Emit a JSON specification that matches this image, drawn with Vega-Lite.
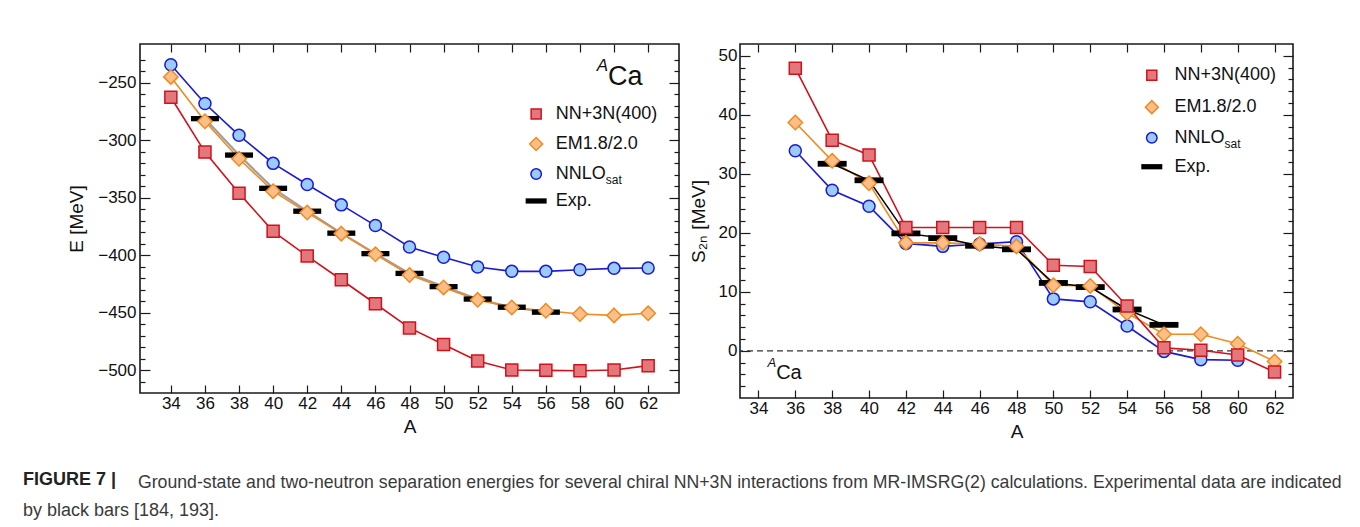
{
  "$schema": "https://vega.github.io/schema/vega-lite/v6.json",
  "background": "white",
  "padding": {"left": 22, "top": 42, "right": 0, "bottom": 0},
  "autosize": {"type": "pad"},
  "datasets": {
    "energy": [
      {"A": 36, "model": "Exp", "E": -281.4}, {"A": 38, "model": "Exp", "E": -313.1}, {"A": 40, "model": "Exp", "E": -342.0},
      {"A": 42, "model": "Exp", "E": -361.9}, {"A": 44, "model": "Exp", "E": -381.0}, {"A": 46, "model": "Exp", "E": -398.8},
      {"A": 48, "model": "Exp", "E": -416.0}, {"A": 50, "model": "Exp", "E": -427.5}, {"A": 52, "model": "Exp", "E": -438.3},
      {"A": 54, "model": "Exp", "E": -445.4}, {"A": 56, "model": "Exp", "E": -449.7},
      {"A": 34, "model": "NNLOsat", "E": -234.6}, {"A": 36, "model": "NNLOsat", "E": -268.3}, {"A": 38, "model": "NNLOsat", "E": -295.9},
      {"A": 40, "model": "NNLOsat", "E": -320.3}, {"A": 42, "model": "NNLOsat", "E": -338.7}, {"A": 44, "model": "NNLOsat", "E": -356.4},
      {"A": 46, "model": "NNLOsat", "E": -374.4}, {"A": 48, "model": "NNLOsat", "E": -393.0}, {"A": 50, "model": "NNLOsat", "E": -402.0},
      {"A": 52, "model": "NNLOsat", "E": -410.5}, {"A": 54, "model": "NNLOsat", "E": -414.2}, {"A": 56, "model": "NNLOsat", "E": -414.2},
      {"A": 58, "model": "NNLOsat", "E": -412.8}, {"A": 60, "model": "NNLOsat", "E": -411.6}, {"A": 62, "model": "NNLOsat", "E": -411.3},
      {"A": 34, "model": "EM1.8/2.0", "E": -245.1}, {"A": 36, "model": "EM1.8/2.0", "E": -283.7}, {"A": 38, "model": "EM1.8/2.0", "E": -316.3},
      {"A": 40, "model": "EM1.8/2.0", "E": -344.5}, {"A": 42, "model": "EM1.8/2.0", "E": -363.1}, {"A": 44, "model": "EM1.8/2.0", "E": -381.4},
      {"A": 46, "model": "EM1.8/2.0", "E": -399.4}, {"A": 48, "model": "EM1.8/2.0", "E": -417.4}, {"A": 50, "model": "EM1.8/2.0", "E": -428.2},
      {"A": 52, "model": "EM1.8/2.0", "E": -439.0}, {"A": 54, "model": "EM1.8/2.0", "E": -445.6}, {"A": 56, "model": "EM1.8/2.0", "E": -448.5},
      {"A": 58, "model": "EM1.8/2.0", "E": -451.3}, {"A": 60, "model": "EM1.8/2.0", "E": -452.5}, {"A": 62, "model": "EM1.8/2.0", "E": -450.7},
      {"A": 34, "model": "NN+3N(400)", "E": -262.8}, {"A": 36, "model": "NN+3N(400)", "E": -310.5}, {"A": 38, "model": "NN+3N(400)", "E": -346.2},
      {"A": 40, "model": "NN+3N(400)", "E": -379.4}, {"A": 42, "model": "NN+3N(400)", "E": -400.9}, {"A": 44, "model": "NN+3N(400)", "E": -421.5},
      {"A": 46, "model": "NN+3N(400)", "E": -442.4}, {"A": 48, "model": "NN+3N(400)", "E": -463.4}, {"A": 50, "model": "NN+3N(400)", "E": -477.9},
      {"A": 52, "model": "NN+3N(400)", "E": -492.2}, {"A": 54, "model": "NN+3N(400)", "E": -500.0}, {"A": 56, "model": "NN+3N(400)", "E": -500.3},
      {"A": 58, "model": "NN+3N(400)", "E": -500.6}, {"A": 60, "model": "NN+3N(400)", "E": -500.0}, {"A": 62, "model": "NN+3N(400)", "E": -496.2}
    ],
    "separation": [
      {"A": 38, "model": "Exp", "S": 31.7}, {"A": 40, "model": "Exp", "S": 28.9}, {"A": 42, "model": "Exp", "S": 19.9},
      {"A": 44, "model": "Exp", "S": 19.1}, {"A": 46, "model": "Exp", "S": 17.8}, {"A": 48, "model": "Exp", "S": 17.2},
      {"A": 50, "model": "Exp", "S": 11.5}, {"A": 52, "model": "Exp", "S": 10.8}, {"A": 54, "model": "Exp", "S": 7.0},
      {"A": 56, "model": "Exp", "S": 4.4},
      {"A": 36, "model": "NNLOsat", "S": 33.9}, {"A": 38, "model": "NNLOsat", "S": 27.2}, {"A": 40, "model": "NNLOsat", "S": 24.5},
      {"A": 42, "model": "NNLOsat", "S": 18.2}, {"A": 44, "model": "NNLOsat", "S": 17.7}, {"A": 46, "model": "NNLOsat", "S": 18.1},
      {"A": 48, "model": "NNLOsat", "S": 18.5}, {"A": 50, "model": "NNLOsat", "S": 8.8}, {"A": 52, "model": "NNLOsat", "S": 8.3},
      {"A": 54, "model": "NNLOsat", "S": 4.2}, {"A": 56, "model": "NNLOsat", "S": -0.1}, {"A": 58, "model": "NNLOsat", "S": -1.5},
      {"A": 60, "model": "NNLOsat", "S": -1.6},
      {"A": 36, "model": "EM1.8/2.0", "S": 38.7}, {"A": 38, "model": "EM1.8/2.0", "S": 32.2}, {"A": 40, "model": "EM1.8/2.0", "S": 28.4},
      {"A": 42, "model": "EM1.8/2.0", "S": 18.3}, {"A": 44, "model": "EM1.8/2.0", "S": 18.3}, {"A": 46, "model": "EM1.8/2.0", "S": 18.1},
      {"A": 48, "model": "EM1.8/2.0", "S": 17.7}, {"A": 50, "model": "EM1.8/2.0", "S": 11.1}, {"A": 52, "model": "EM1.8/2.0", "S": 11.0},
      {"A": 54, "model": "EM1.8/2.0", "S": 6.4}, {"A": 56, "model": "EM1.8/2.0", "S": 2.8}, {"A": 58, "model": "EM1.8/2.0", "S": 2.8},
      {"A": 60, "model": "EM1.8/2.0", "S": 1.2}, {"A": 62, "model": "EM1.8/2.0", "S": -1.8},
      {"A": 36, "model": "NN+3N(400)", "S": 47.9}, {"A": 38, "model": "NN+3N(400)", "S": 35.7}, {"A": 40, "model": "NN+3N(400)", "S": 33.2},
      {"A": 42, "model": "NN+3N(400)", "S": 20.9}, {"A": 44, "model": "NN+3N(400)", "S": 20.9}, {"A": 46, "model": "NN+3N(400)", "S": 20.9},
      {"A": 48, "model": "NN+3N(400)", "S": 20.9}, {"A": 50, "model": "NN+3N(400)", "S": 14.5}, {"A": 52, "model": "NN+3N(400)", "S": 14.3},
      {"A": 54, "model": "NN+3N(400)", "S": 7.6}, {"A": 56, "model": "NN+3N(400)", "S": 0.5}, {"A": 58, "model": "NN+3N(400)", "S": 0.1},
      {"A": 60, "model": "NN+3N(400)", "S": -0.7}, {"A": 62, "model": "NN+3N(400)", "S": -3.6}
    ]
  },
  "title": {
    "text": "Ground-state and two-neutron separation energies for several chiral NN+3N interactions from MR-IMSRG(2) calculations. Experimental data are indicated",
    "orient": "bottom", "anchor": "start", "dx": 115, "dy": -50,
    "font": "Liberation Sans", "fontSize": 17.7, "fontWeight": "normal", "color": "#3a3a3a"
  },
  "vconcat": [
    {
      "title": {
        "text": "FIGURE 7 |",
        "subtitle": "by black bars [184, 193].",
        "orient": "bottom", "anchor": "start", "dx": -44, "offset": 29,
        "font": "Liberation Sans", "fontSize": 18, "fontWeight": "bold", "color": "#222222",
        "subtitleFont": "Liberation Sans", "subtitleFontSize": 18, "subtitleColor": "#3a3a3a", "subtitlePadding": 13
      },
      "spacing": 7,
      "resolve": {
        "scale": {"x": "independent", "y": "independent", "color": "independent", "shape": "independent", "fill": "independent", "stroke": "independent"}
      },
      "hconcat": [
        {
          "width": 539,
          "height": 349,
          "resolve": {"axis": {"x": "independent", "y": "independent"}},
          "layer": [
            {
              "data": {"name": "energy"},
              "transform": [{"filter": "datum.model === 'Exp'"}],
              "mark": {"type": "line", "color": "#a0a0a0", "strokeWidth": 2.2},
              "encoding": {
                "x": {
                  "field": "A", "type": "quantitative",
                  "scale": {"domain": [32.19, 63.81], "nice": false, "zero": false},
                  "axis": {"orient": "bottom", "values": [34, 36, 38, 40, 42, 44, 46, 48, 50, 52, 54, 56, 58, 60, 62],
                           "tickSize": -8, "labelPadding": 10, "labelOverlap": false, "labelFlush": false,
                           "title": "A", "titlePadding": 6}
                },
                "y": {
                  "field": "E", "type": "quantitative",
                  "scale": {"domain": [-520, -216.5], "nice": false, "zero": false},
                  "axis": {"orient": "left",
                           "values": [-510, -500, -490, -480, -470, -460, -450, -440, -430, -420, -410, -400, -390, -380, -370, -360, -350, -340, -330, -320, -310, -300, -290, -280, -270, -260, -250, -240, -230],
                           "tickSize": {"condition": {"test": "datum.value % 50 === 0", "value": -10}, "value": -5},
                           "labelExpr": "datum.value % 50 === 0 ? datum.label : ''",
                           "labelPadding": 14, "labelOverlap": false, "labelFlush": false,
                           "title": "E [MeV]", "titlePadding": 11}
                }
              }
            },
            {
              "data": {"name": "energy"},
              "transform": [{"filter": "datum.model !== 'Exp'"}],
              "mark": {"type": "line", "strokeWidth": 1.6},
              "encoding": {
                "x": {"field": "A", "type": "quantitative", "axis": null},
                "y": {"field": "E", "type": "quantitative", "axis": null},
                "color": {"field": "model", "type": "nominal",
                          "scale": {"domain": ["NN+3N(400)", "EM1.8/2.0", "NNLOsat"], "range": ["#d0121c", "#f08a22", "#1a1ad4"]},
                          "legend": null}
              }
            },
            {
              "data": {"name": "energy"},
              "transform": [{"filter": "datum.model === 'Exp'"}],
              "mark": {"type": "point", "shape": "M-1,-0.19H1V0.19H-1Z", "size": 784, "filled": true, "color": "#000000", "opacity": 1},
              "encoding": {
                "x": {"field": "A", "type": "quantitative",
                      "axis": {"orient": "top", "values": [34, 36, 38, 40, 42, 44, 46, 48, 50, 52, 54, 56, 58, 60, 62], "tickSize": -8, "labels": false, "title": null}},
                "y": {"field": "E", "type": "quantitative",
                      "axis": {"orient": "right",
                               "values": [-510, -500, -490, -480, -470, -460, -450, -440, -430, -420, -410, -400, -390, -380, -370, -360, -350, -340, -330, -320, -310, -300, -290, -280, -270, -260, -250, -240, -230],
                               "tickSize": {"condition": {"test": "datum.value % 50 === 0", "value": -10}, "value": -5},
                               "labels": false, "title": null}}
              }
            },
            {
              "data": {"name": "energy"},
              "transform": [{"filter": "datum.model !== 'Exp'"}],
              "mark": {"type": "point", "filled": true, "opacity": 1, "size": 144, "strokeWidth": 1.5},
              "encoding": {
                "x": {"field": "A", "type": "quantitative", "axis": null},
                "y": {"field": "E", "type": "quantitative", "axis": null},
                "shape": {"field": "model", "type": "nominal",
                          "scale": {"domain": ["NN+3N(400)", "EM1.8/2.0", "NNLOsat"], "range": ["M-1,-1H1V1H-1Z", "M0,-1.2L1.2,0L0,1.2L-1.2,0Z", "circle"]},
                          "legend": null},
                "fill": {"field": "model", "type": "nominal",
                         "scale": {"domain": ["NN+3N(400)", "EM1.8/2.0", "NNLOsat"], "range": ["#e4777b", "#fdbf87", "#9bcbfb"]},
                         "legend": null},
                "stroke": {"field": "model", "type": "nominal",
                           "scale": {"domain": ["NN+3N(400)", "EM1.8/2.0", "NNLOsat"], "range": ["#d0121c", "#f08a22", "#1a1ad4"]},
                           "legend": null}
              }
            },
            {
              "data": {"values": [{}]},
              "mark": {"type": "point", "shape": "M-1,-1H1V1H-1Z", "size": 100, "filled": true, "fill": "#e4777b", "stroke": "#d0121c", "strokeWidth": 1.5, "opacity": 1},
              "encoding": {"x": {"datum": 55.43, "type": "quantitative", "axis": null}, "y": {"datum": -277.4, "type": "quantitative", "axis": null}}
            },
            {
              "data": {"values": [{}]},
              "mark": {"type": "point", "shape": "M0,-1.2L1.2,0L0,1.2L-1.2,0Z", "size": 117, "filled": true, "fill": "#fdbf87", "stroke": "#f08a22", "strokeWidth": 1.5, "opacity": 1},
              "encoding": {"x": {"datum": 55.43, "type": "quantitative", "axis": null}, "y": {"datum": -303.5, "type": "quantitative", "axis": null}}
            },
            {
              "data": {"values": [{}]},
              "mark": {"type": "point", "shape": "circle", "size": 110, "filled": true, "fill": "#9bcbfb", "stroke": "#1a1ad4", "strokeWidth": 1.5, "opacity": 1},
              "encoding": {"x": {"datum": 55.43, "type": "quantitative", "axis": null}, "y": {"datum": -329.6, "type": "quantitative", "axis": null}}
            },
            {
              "data": {"values": [{}]},
              "mark": {"type": "point", "shape": "M-1,-0.25H1V0.25H-1Z", "size": 441, "filled": true, "fill": "#000000", "opacity": 1},
              "encoding": {"x": {"datum": 55.43, "type": "quantitative", "axis": null}, "y": {"datum": -353.0, "type": "quantitative", "axis": null}}
            },
            {
              "data": {"values": [{}]},
              "mark": {"type": "text", "text": "NN+3N(400)", "align": "left", "baseline": "middle", "fontSize": 18, "color": "#111111"},
              "encoding": {"x": {"datum": 56.58, "type": "quantitative", "axis": null}, "y": {"datum": -277.4, "type": "quantitative", "axis": null}}
            },
            {
              "data": {"values": [{}]},
              "mark": {"type": "text", "text": "EM1.8/2.0", "align": "left", "baseline": "middle", "fontSize": 18, "color": "#111111"},
              "encoding": {"x": {"datum": 56.58, "type": "quantitative", "axis": null}, "y": {"datum": -303.5, "type": "quantitative", "axis": null}}
            },
            {
              "data": {"values": [{}]},
              "mark": {"type": "text", "text": "NNLO", "align": "left", "baseline": "middle", "fontSize": 18, "color": "#111111"},
              "encoding": {"x": {"datum": 56.58, "type": "quantitative", "axis": null}, "y": {"datum": -329.6, "type": "quantitative", "axis": null}}
            },
            {
              "data": {"values": [{}]},
              "mark": {"type": "text", "text": "sat", "align": "left", "baseline": "middle", "fontSize": 12, "dx": 50, "dy": 6, "color": "#111111"},
              "encoding": {"x": {"datum": 56.58, "type": "quantitative", "axis": null}, "y": {"datum": -329.6, "type": "quantitative", "axis": null}}
            },
            {
              "data": {"values": [{}]},
              "mark": {"type": "text", "text": "Exp.", "align": "left", "baseline": "middle", "fontSize": 18, "color": "#111111"},
              "encoding": {"x": {"datum": 56.58, "type": "quantitative", "axis": null}, "y": {"datum": -353.0, "type": "quantitative", "axis": null}}
            },
            {
              "data": {"values": [{}]},
              "mark": {"type": "text", "text": "Ca", "align": "left", "baseline": "alphabetic", "fontSize": 27, "color": "#111111"},
              "encoding": {"x": {"datum": 59.65, "type": "quantitative", "axis": null}, "y": {"datum": -252.2, "type": "quantitative", "axis": null}}
            },
            {
              "data": {"values": [{}]},
              "mark": {"type": "text", "text": "A", "align": "right", "baseline": "alphabetic", "fontStyle": "italic", "fontSize": 17, "dy": -14, "color": "#111111"},
              "encoding": {"x": {"datum": 59.65, "type": "quantitative", "axis": null}, "y": {"datum": -252.2, "type": "quantitative", "axis": null}}
            }
          ]
        },
        {
          "width": 553,
          "height": 354,
          "resolve": {"axis": {"x": "independent", "y": "independent"}},
          "layer": [
            {
              "data": {"values": [{"S": 0}]},
              "mark": {"type": "rule", "color": "#333333", "strokeWidth": 1.3, "strokeDash": [6, 4]},
              "encoding": {"y": {"field": "S", "type": "quantitative", "axis": null}}
            },
            {
              "data": {"name": "separation"},
              "transform": [{"filter": "datum.model !== 'Exp'"}],
              "mark": {"type": "line", "strokeWidth": 1.6},
              "encoding": {
                "x": {
                  "field": "A", "type": "quantitative",
                  "scale": {"domain": [33, 63], "nice": false, "zero": false},
                  "axis": {"orient": "bottom", "values": [34, 36, 38, 40, 42, 44, 46, 48, 50, 52, 54, 56, 58, 60, 62],
                           "tickSize": -8, "labelPadding": 10, "labelOverlap": false, "labelFlush": false,
                           "title": "A", "titlePadding": 6}
                },
                "y": {
                  "field": "S", "type": "quantitative",
                  "scale": {"domain": [-8, 52], "nice": false, "zero": false},
                  "axis": {"orient": "left",
                           "values": [-6, -4, -2, 0, 2, 4, 6, 8, 10, 12, 14, 16, 18, 20, 22, 24, 26, 28, 30, 32, 34, 36, 38, 40, 42, 44, 46, 48, 50],
                           "tickSize": {"condition": {"test": "datum.value % 10 === 0", "value": -10}, "value": -5},
                           "labelExpr": "datum.value % 10 === 0 ? datum.label : ''",
                           "labelPadding": 13, "labelOverlap": false, "labelFlush": false,
                           "title": "S₂ₙ [MeV]", "titlePadding": 10}
                },
                "color": {"field": "model", "type": "nominal",
                          "scale": {"domain": ["NN+3N(400)", "EM1.8/2.0", "NNLOsat"], "range": ["#d0121c", "#f08a22", "#1a1ad4"]},
                          "legend": null}
              }
            },
            {
              "data": {"name": "separation"},
              "transform": [{"filter": "datum.model === 'Exp'"}],
              "mark": {"type": "line", "color": "#000000", "strokeWidth": 1.5},
              "encoding": {
                "x": {"field": "A", "type": "quantitative", "axis": null},
                "y": {"field": "S", "type": "quantitative", "axis": null}
              }
            },
            {
              "data": {"name": "separation"},
              "transform": [{"filter": "datum.model === 'Exp'"}],
              "mark": {"type": "point", "shape": "M-1,-0.2H1V0.2H-1Z", "size": 841, "filled": true, "color": "#000000", "opacity": 1},
              "encoding": {
                "x": {"field": "A", "type": "quantitative",
                      "axis": {"orient": "top", "values": [34, 36, 38, 40, 42, 44, 46, 48, 50, 52, 54, 56, 58, 60, 62], "tickSize": -8, "labels": false, "title": null}},
                "y": {"field": "S", "type": "quantitative",
                      "axis": {"orient": "right",
                               "values": [-6, -4, -2, 0, 2, 4, 6, 8, 10, 12, 14, 16, 18, 20, 22, 24, 26, 28, 30, 32, 34, 36, 38, 40, 42, 44, 46, 48, 50],
                               "tickSize": {"condition": {"test": "datum.value % 10 === 0", "value": -10}, "value": -5},
                               "labels": false, "title": null}}
              }
            },
            {
              "data": {"name": "separation"},
              "transform": [{"filter": "datum.model !== 'Exp'"}],
              "mark": {"type": "point", "filled": true, "opacity": 1, "size": 144, "strokeWidth": 1.5},
              "encoding": {
                "x": {"field": "A", "type": "quantitative", "axis": null},
                "y": {"field": "S", "type": "quantitative", "axis": null},
                "shape": {"field": "model", "type": "nominal",
                          "scale": {"domain": ["NN+3N(400)", "EM1.8/2.0", "NNLOsat"], "range": ["M-1,-1H1V1H-1Z", "M0,-1.2L1.2,0L0,1.2L-1.2,0Z", "circle"]},
                          "legend": null},
                "fill": {"field": "model", "type": "nominal",
                         "scale": {"domain": ["NN+3N(400)", "EM1.8/2.0", "NNLOsat"], "range": ["#e4777b", "#fdbf87", "#9bcbfb"]},
                         "legend": null},
                "stroke": {"field": "model", "type": "nominal",
                           "scale": {"domain": ["NN+3N(400)", "EM1.8/2.0", "NNLOsat"], "range": ["#d0121c", "#f08a22", "#1a1ad4"]},
                           "legend": null}
              }
            },
            {
              "data": {"values": [{}]},
              "mark": {"type": "point", "shape": "M-1,-1H1V1H-1Z", "size": 100, "filled": true, "fill": "#e4777b", "stroke": "#d0121c", "strokeWidth": 1.5, "opacity": 1},
              "encoding": {"x": {"datum": 55.34, "type": "quantitative", "axis": null}, "y": {"datum": 46.7, "type": "quantitative", "axis": null}}
            },
            {
              "data": {"values": [{}]},
              "mark": {"type": "point", "shape": "M0,-1.2L1.2,0L0,1.2L-1.2,0Z", "size": 117, "filled": true, "fill": "#fdbf87", "stroke": "#f08a22", "strokeWidth": 1.5, "opacity": 1},
              "encoding": {"x": {"datum": 55.34, "type": "quantitative", "axis": null}, "y": {"datum": 41.3, "type": "quantitative", "axis": null}}
            },
            {
              "data": {"values": [{}]},
              "mark": {"type": "point", "shape": "circle", "size": 110, "filled": true, "fill": "#9bcbfb", "stroke": "#1a1ad4", "strokeWidth": 1.5, "opacity": 1},
              "encoding": {"x": {"datum": 55.34, "type": "quantitative", "axis": null}, "y": {"datum": 36.1, "type": "quantitative", "axis": null}}
            },
            {
              "data": {"values": [{}]},
              "mark": {"type": "point", "shape": "M-1,-0.25H1V0.25H-1Z", "size": 441, "filled": true, "fill": "#000000", "opacity": 1},
              "encoding": {"x": {"datum": 55.34, "type": "quantitative", "axis": null}, "y": {"datum": 31.2, "type": "quantitative", "axis": null}}
            },
            {
              "data": {"values": [{}]},
              "mark": {"type": "text", "text": "NN+3N(400)", "align": "left", "baseline": "middle", "fontSize": 18, "color": "#111111"},
              "encoding": {"x": {"datum": 56.57, "type": "quantitative", "axis": null}, "y": {"datum": 46.7, "type": "quantitative", "axis": null}}
            },
            {
              "data": {"values": [{}]},
              "mark": {"type": "text", "text": "EM1.8/2.0", "align": "left", "baseline": "middle", "fontSize": 18, "color": "#111111"},
              "encoding": {"x": {"datum": 56.57, "type": "quantitative", "axis": null}, "y": {"datum": 41.3, "type": "quantitative", "axis": null}}
            },
            {
              "data": {"values": [{}]},
              "mark": {"type": "text", "text": "NNLO", "align": "left", "baseline": "middle", "fontSize": 18, "color": "#111111"},
              "encoding": {"x": {"datum": 56.57, "type": "quantitative", "axis": null}, "y": {"datum": 36.1, "type": "quantitative", "axis": null}}
            },
            {
              "data": {"values": [{}]},
              "mark": {"type": "text", "text": "sat", "align": "left", "baseline": "middle", "fontSize": 12, "dx": 50, "dy": 6, "color": "#111111"},
              "encoding": {"x": {"datum": 56.57, "type": "quantitative", "axis": null}, "y": {"datum": 36.1, "type": "quantitative", "axis": null}}
            },
            {
              "data": {"values": [{}]},
              "mark": {"type": "text", "text": "Exp.", "align": "left", "baseline": "middle", "fontSize": 18, "color": "#111111"},
              "encoding": {"x": {"datum": 56.57, "type": "quantitative", "axis": null}, "y": {"datum": 31.2, "type": "quantitative", "axis": null}}
            },
            {
              "data": {"values": [{}]},
              "mark": {"type": "text", "text": "Ca", "align": "left", "baseline": "alphabetic", "fontSize": 20, "color": "#111111"},
              "encoding": {"x": {"datum": 34.96, "type": "quantitative", "axis": null}, "y": {"datum": -4.78, "type": "quantitative", "axis": null}}
            },
            {
              "data": {"values": [{}]},
              "mark": {"type": "text", "text": "A", "align": "right", "baseline": "alphabetic", "fontStyle": "italic", "fontSize": 13, "dy": -12, "color": "#111111"},
              "encoding": {"x": {"datum": 34.96, "type": "quantitative", "axis": null}, "y": {"datum": -4.78, "type": "quantitative", "axis": null}}
            }
          ]
        }
      ]
    }
  ],
  "config": {
    "font": "Liberation Sans",
    "view": {"stroke": "#1a1a1a", "strokeWidth": 1.6},
    "axis": {
      "grid": false, "domain": false,
      "tickColor": "#1a1a1a", "tickWidth": 1.2,
      "labelFont": "Liberation Sans", "labelFontSize": 17, "labelColor": "#111111",
      "titleFont": "Liberation Sans", "titleFontSize": 19, "titleFontWeight": "normal", "titleColor": "#111111"
    }
  }
}
